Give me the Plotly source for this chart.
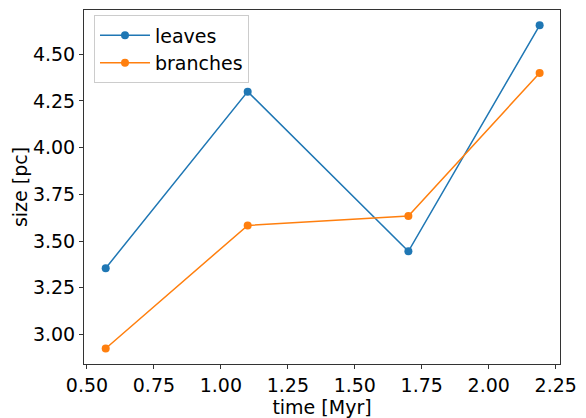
import plotly.graph_objects as go

time_myr = [0.57, 1.10, 1.70, 2.19]
leaves = [3.355, 4.30, 3.445, 4.655]
branches = [2.925, 3.584, 3.634, 4.40]
x_ticks = [0.50, 0.75, 1.00, 1.25, 1.50, 1.75, 2.00, 2.25]
y_ticks = [3.00, 3.25, 3.50, 3.75, 4.00, 4.25, 4.50]

font = dict(family="DejaVu Sans", size=19, color="black")

fig = go.Figure()
fig.add_trace(go.Scatter(x=time_myr, y=leaves, mode="lines+markers", name="leaves",
                         line=dict(color="#1f77b4", width=1.5),
                         marker=dict(color="#1f77b4", size=8)))
fig.add_trace(go.Scatter(x=time_myr, y=branches, mode="lines+markers", name="branches",
                         line=dict(color="#ff7f0e", width=1.5),
                         marker=dict(color="#ff7f0e", size=8)))

axis_common = dict(showgrid=False, zeroline=False, showline=True, mirror=True,
                   linecolor="#333333", linewidth=1, ticks="outside", ticklen=4,
                   tickcolor="#333333", tickwidth=1, tickfont=font)

fig.update_layout(
    width=586, height=418,
    margin=dict(l=84, r=18, t=9, b=49),
    paper_bgcolor="white", plot_bgcolor="white",
    font=font,
    showlegend=True,
    legend=dict(x=0.021, y=0.985, xanchor="left", yanchor="top",
                bgcolor="rgba(255,255,255,0.8)", bordercolor="#cccccc", borderwidth=1,
                font=dict(family="DejaVu Sans", size=19, color="black"),
                itemwidth=50, tracegroupgap=0),
    xaxis=dict(range=[0.489, 2.266], tickvals=x_ticks,
               ticktext=[f"{v:.2f}" for v in x_ticks],
               title=dict(text="time [Myr]", font=font, standoff=0), **axis_common),
    yaxis=dict(range=[2.842, 4.737], tickvals=y_ticks,
               ticktext=[f"{v:.2f}" for v in y_ticks],
               title=dict(text="size [pc]", font=font, standoff=0), **axis_common),
)

fig.write_html("out.html")
